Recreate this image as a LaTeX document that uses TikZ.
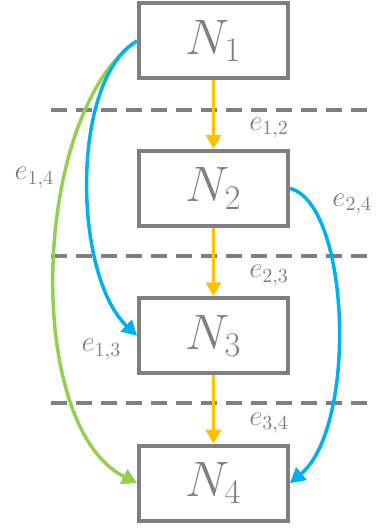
\documentclass[tikz,border=0pt]{standalone}
\usepackage{tikz}
\usetikzlibrary{positioning, arrows.meta}
\definecolor{boxgrey}{RGB}{127, 127, 127}
\definecolor{flowyellow}{RGB}{255, 192, 0}
\definecolor{skipblue}{RGB}{0, 176, 240}
\definecolor{skipgreen}{RGB}{146, 208, 80}

\begin{document}
\begin{tikzpicture}[x=0.5pt, y=-0.5pt, node distance=34.2pt,
    level/.style={draw=boxgrey, line width=2pt, rectangle, minimum width=74.5pt, minimum height=37.5pt, inner sep=0pt, text=boxgrey, font=\fontsize{23.5}{28}\selectfont},
    flow/.style={-{Triangle[width=7.5pt, length=7pt]}, line width=1.75pt, flowyellow},
    skip/.style={-{Triangle[width=8pt, length=7.5pt]}, line width=1.75pt},
    elabel/.style={text=boxgrey, font=\fontsize{14}{16}\selectfont, inner sep=1pt},
    divider/.style={boxgrey, line width=2pt, dash pattern=on 8pt off 4.5pt}]
    \useasboundingbox (0,0) rectangle (375,529);

    \node [level] (n1) at (213.5,41) {$N_1$};
    \node [level, below=of n1] (n2) {$N_2$};
    \node [level, below=of n2] (n3) {$N_3$};
    \node [level, below=of n3] (n4) {$N_4$};

    % dashed separators between the levels
    \draw [divider] (51,110) -- (380,110);
    \draw [divider] (51,256) -- (380,256);
    \draw [divider] (51,403) -- (380,403);

    \draw [flow] (n1) -- node[elabel, pos=0.7, right=16pt] {$e_{1,2}$} (n2);
    \draw [flow] (n2) -- node[elabel, pos=0.7, right=16pt] {$e_{2,3}$} (n3);
    \draw [flow] (n3) -- node[elabel, pos=0.7, right=16pt] {$e_{3,4}$} (n4);

    \draw [skip, skipgreen] (n1.west) .. controls (32,112) and (22,425) .. node[elabel, pos=0.34, left=3pt] {$e_{1,4}$} (n4.west);
    \draw [skip, skipblue] (n1.west) .. controls (70,80) and (73,275) .. node[elabel, at end, anchor=north east, xshift=-6pt] {$e_{1,3}$} (n3.west);
    \draw [skip, skipblue] (n2.east) .. controls (350,204) and (358,426) .. node[elabel, pos=0.13, right=9pt] {$e_{2,4}$} (n4.east);
\end{tikzpicture}
\end{document}
